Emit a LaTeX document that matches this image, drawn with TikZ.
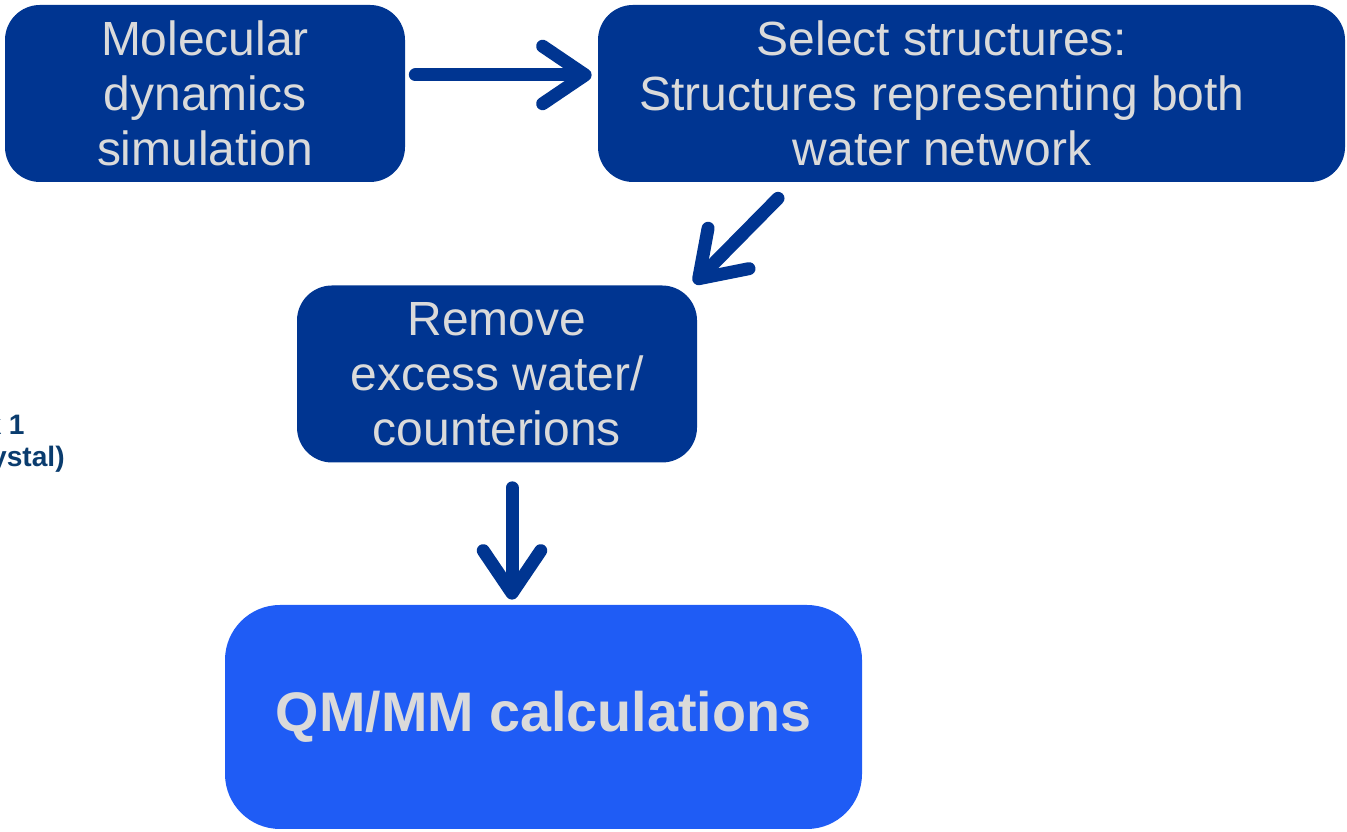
\documentclass[tikz,border=0pt]{standalone}
\usepackage{fontspec}
\setmainfont{Liberation Sans}
\usepackage{xcolor}
\usepackage{tikz}
\usetikzlibrary{arrows.meta, positioning}
\definecolor{stepdark}{RGB}{0,53,145}
\definecolor{stepbright}{RGB}{31,92,245}
\definecolor{steptext}{RGB}{218,218,218}
\definecolor{sidetext}{RGB}{10,60,110}

\begin{document}
\begin{tikzpicture}[
    every node/.style={align=center},
    box/.style={rounded corners=0.7cm, minimum width=8cm, minimum height=3.54cm,
                fill=stepdark, text=steptext, inner sep=0pt,
                font=\fontsize{27.3}{31.3}\selectfont},
    bigbox/.style={rounded corners=1.1cm, minimum width=12.74cm, minimum height=4.48cm,
                   fill=stepbright, text=steptext, inner sep=0pt,
                   font=\fontsize{31.7}{36}\selectfont\bfseries},
    side/.style={text=sidetext, inner sep=0pt, anchor=base east,
                 font=\fontsize{16}{19}\selectfont\bfseries},
    arr/.style={-{Straight Barb[length=0.85cm, width=1.15cm, round]},
                line width=0.26cm, line cap=round, draw=stepdark}
  ]
    \useasboundingbox (0,0) rectangle (26.94,16.64);

    \node[box] (md) at (4.10,14.77) {Molecular\\ dynamics\\ simulation};
    \node[box, minimum width=14.94cm] (select) at (19.43,14.77) {};
    \node[text=steptext, font=\fontsize{27.3}{31.3}\selectfont, inner sep=0pt]
      (selecttxt) at ([xshift=-0.59cm]select.center)
      {Select structures:\\ Structures representing both\\ water network};
    \node[box] (remove) at (9.94,9.16) {Remove\\ excess water/\\ counterions};
    \node[bigbox] (qm) at (10.87,2.30) {QM/MM calculations};

    \node[side] (net) at (0.50,7.94) {k 1};
    \node[side] (cry) at (1.30,7.30) {ystal)};

    \coordinate (a2) at ([xshift=-3.87cm, yshift=-0.32cm]select.south);

    \draw[arr, shorten <=0.2cm, shorten >=0.12cm]
      ([yshift=0.37cm]md.east) -- ([yshift=0.37cm]select.west);
    \draw[arr, shorten >=0.05cm] (a2) -- ([xshift=-0.1cm]remove.north east);
    \draw[arr, shorten <=0.5cm, shorten >=0.1cm]
      ([xshift=0.3cm]remove.south) -- ([xshift=0.3cm]remove.south |- qm.north);
  \end{tikzpicture}
\end{document}
